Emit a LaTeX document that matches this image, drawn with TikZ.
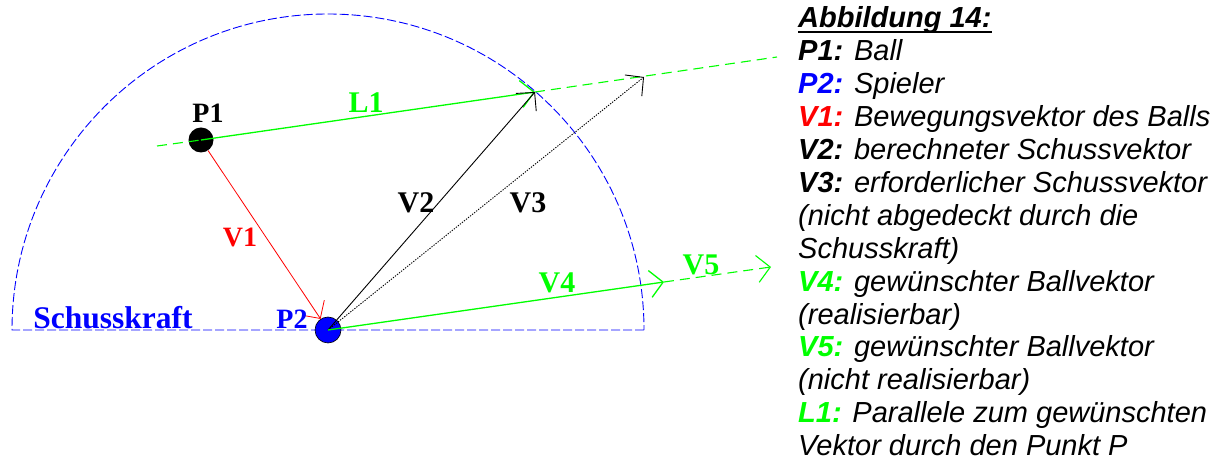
\documentclass[tikz,border=0pt]{standalone}
\usepackage{fontspec}
\usetikzlibrary{arrows.meta}
\newfontfamily\legfont{Liberation Sans}
\newfontfamily\labfont{Liberation Serif}
\definecolor{pgreen}{RGB}{0,255,0}
\definecolor{pblue}{RGB}{0,0,255}
\definecolor{pred}{RGB}{255,0,0}
\newcommand\ulbox[1]{\setbox0\hbox{#1}\rlap{\rule[-5.3pt]{\wd0}{2.6pt}}\box0}
\begin{document}
\begin{tikzpicture}[x=1pt,y=1pt,
  lab/.style={font=\labfont\bfseries\fontsize{30}{30}\selectfont, inner sep=0pt, anchor=base},
  labs/.style={font=\labfont\bfseries\fontsize{28}{28}\selectfont, inner sep=0pt, anchor=base},
  legline/.style={font=\legfont\itshape\fontsize{29}{30}\selectfont, inner sep=0pt, anchor=base west},
  barb/.style={-{Straight Barb[length=13pt,width=27pt]}},
  kraft/.style={pblue, dash pattern=on 9pt off 3pt, line width=0.9pt},
  gdash/.style={pgreen, dash pattern=on 10pt off 6pt, line width=1.1pt},
  gsolid/.style={pgreen, line width=1.3pt},
  vline/.style={black, line width=0.9pt},
  dotline/.style={black, dash pattern=on 1.3pt off 1.3pt, line width=0.9pt},
  rline/.style={pred, line width=0.8pt}]
\useasboundingbox (0,0) rectangle (1223,468);
% key points
\coordinate (K1) at (12,138);
\coordinate (K2) at (644,138);
\coordinate (L1s) at (157,322);
\coordinate (V2t) at (535,376);
\coordinate (V3t) at (644,391);
\coordinate (L1e) at (777,411);
\coordinate (V4t) at (664,186);
\coordinate (V5t) at (771,201);
% Schusskraft semicircle
\draw[kraft] (K2) -- (K1) arc[start angle=180, end angle=0, radius=316pt];
% points
\node[circle, fill=black, minimum size=25pt, inner sep=0pt] (P1) at (201,328) {};
\node[circle, fill=pblue, draw=black, line width=0.6pt, minimum size=26pt, inner sep=0pt] (P2) at (328,138) {};
% L1
\draw[gdash] (L1s) -- (P1.center);
\draw[gsolid, barb] (P1.center) -- (V2t);
\draw[gdash] (V2t) -- (L1e);
% V2, V3
\draw[vline, barb] (P2.center) -- (V2t);
\draw[dotline, barb] (P2.center) -- (V3t);
% V1
\draw[rline, barb] (P1) -- (P2);
% V5, V4
\draw[gdash, barb] (V4t) -- (V5t);
\draw[gsolid, barb] (P2.center) -- (V4t);
% labels
\node[labs] (tP1) at (208,345) {P1};
\node[lab, pgreen] (tL1) at (366,355) {L1};
\node[lab] (tV2) at (416,255) {V2};
\node[lab] (tV3) at (528,255) {V3};
\node[labs, pred] (tV1) at (240,221) {V1};
\node[labs, pblue] (tP2) at (292,139) {P2};
\node[lab, pblue, font=\labfont\bfseries\fontsize{31.5}{32}\selectfont] (tK) at (113,139) {Schusskraft};
\node[lab, pgreen] (tV4) at (557,175) {V4};
\node[lab, pgreen] (tV5) at (701,193) {V5};
% legend
\node[legline] (g0) at (798,440) {\ulbox{\bfseries Abbildung 14:}};
\node[legline] (g1) at (798,407.1) {{\bfseries P1:} Ball};
\node[legline] (g2) at (798,374.2) {{\color{pblue}\bfseries P2:} Spieler};
\node[legline] (g3) at (798,341.3) {{\color{pred}\bfseries V1:} Bewegungsvektor des Balls};
\node[legline] (g4) at (798,308.4) {{\bfseries V2:} berechneter Schussvektor};
\node[legline] (g5) at (798,275.5) {{\bfseries V3:} erforderlicher Schussvektor};
\node[legline] (g6) at (798,242.6) {(nicht abgedeckt durch die};
\node[legline] (g7) at (798,209.7) {Schusskraft)};
\node[legline] (g8) at (798,176.8) {{\color{pgreen}\bfseries V4:} gewünschter Ballvektor};
\node[legline] (g9) at (798,143.9) {(realisierbar)};
\node[legline] (g10) at (798,111.0) {{\color{pgreen}\bfseries V5:} gewünschter Ballvektor};
\node[legline] (g11) at (798,78.1) {(nicht realisierbar)};
\node[legline] (g12) at (798,45.2) {{\color{pgreen}\bfseries L1:} Parallele zum gewünschten};
\node[legline] (g13) at (798,12.3) {Vektor durch den Punkt P};
\end{tikzpicture}
\end{document}
